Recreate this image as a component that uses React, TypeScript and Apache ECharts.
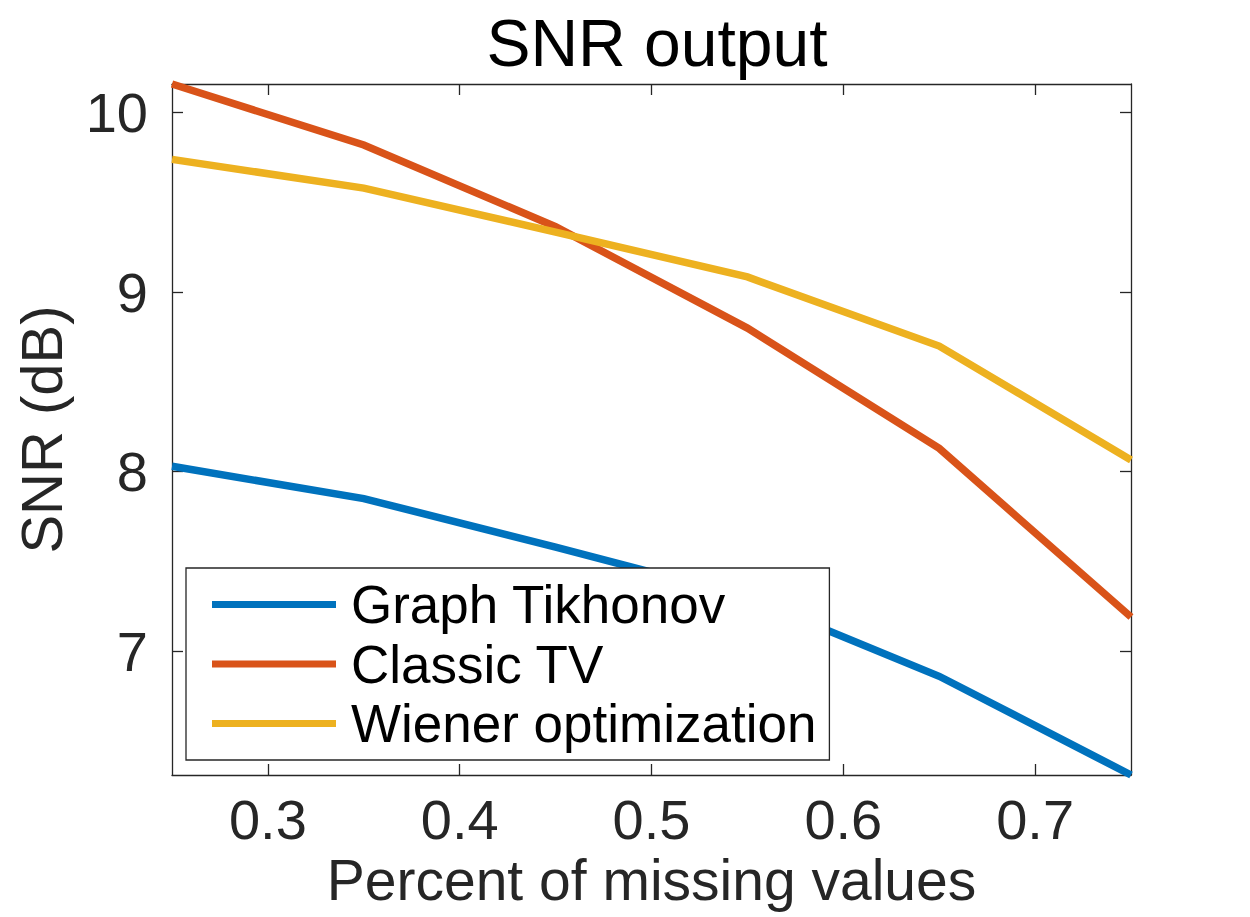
import React, { useEffect, useRef } from "react";
import * as echarts from "echarts";

const missingFraction = [0.25, 0.35, 0.45, 0.55, 0.65, 0.75];
const graphTikhonov = [8.03, 7.85, 7.58, 7.3, 6.86, 6.31];
const classicTV = [10.16, 9.82, 9.365, 8.8, 8.13, 7.19];
const wienerOptimization = [9.74, 9.58, 9.335, 9.085, 8.7, 8.065];
const xTicks = [0.3, 0.4, 0.5, 0.6, 0.7];
const yTicks = [7, 8, 9, 10];
const seriesNames = ["Graph Tikhonov", "Classic TV", "Wiener optimization"];
const seriesColors = ["#0072BD", "#D95319", "#EDB120"];

const FONT = "'Liberation Sans', Helvetica, Arial, sans-serif";
const AX = "#262626";

export default function App() {
  const ref = useRef<HTMLDivElement>(null);
  useEffect(() => {
    if (!ref.current) return;
    const chart = echarts.init(ref.current, undefined, { renderer: "svg" });
    const pair = (ys: number[]) => missingFraction.map((x, i) => [x, ys[i]]);
    const allSeries = [graphTikhonov, classicTV, wienerOptimization];
    const axisCommon = {
      axisLine: { show: true, onZero: false, lineStyle: { color: AX, width: 1.3 } },
      splitLine: { show: false },
    };
    chart.setOption({
      animation: false,
      backgroundColor: "#ffffff",
      textStyle: { fontFamily: FONT },
      title: {
        text: "SNR output",
        left: 652,
        textAlign: "center",
        top: 5,
        textStyle: { fontFamily: FONT, fontSize: 66, fontWeight: "normal", color: "#000" },
      },
      grid: { left: 172, right: 119, top: 84, bottom: 142, containLabel: false },
      xAxis: [
        {
          ...axisCommon,
          type: "value",
          min: 0.25,
          max: 0.75,
          position: "bottom",
          axisTick: { show: true, inside: true, length: 11, customValues: xTicks, lineStyle: { color: AX, width: 1.3 } },
          axisLabel: {
            show: true,
            customValues: xTicks,
            margin: 16,
            fontSize: 56,
            color: AX,
            fontFamily: FONT,
            formatter: (v: number) => v.toFixed(1),
          },
          name: "Percent of missing values",
          nameLocation: "middle",
          nameGap: 76,
          nameTextStyle: { fontSize: 57, color: AX, fontFamily: FONT },
        },
        {
          ...axisCommon,
          type: "value",
          min: 0.25,
          max: 0.75,
          position: "top",
          axisTick: { show: true, inside: true, length: 11, customValues: xTicks, lineStyle: { color: AX, width: 1.3 } },
          axisLabel: { show: false },
        },
      ],
      yAxis: [
        {
          ...axisCommon,
          type: "value",
          min: 6.31,
          max: 10.16,
          position: "left",
          axisTick: { show: true, inside: true, length: 11, customValues: yTicks, lineStyle: { color: AX, width: 1.3 } },
          axisLabel: {
            show: true,
            customValues: yTicks,
            margin: 24,
            fontSize: 56,
            color: AX,
            fontFamily: FONT,
          },
          name: "SNR (dB)",
          nameLocation: "middle",
          nameGap: 102,
          nameTextStyle: { fontSize: 58, color: AX, fontFamily: FONT },
        },
        {
          ...axisCommon,
          type: "value",
          min: 6.31,
          max: 10.16,
          position: "right",
          axisTick: { show: true, inside: true, length: 11, customValues: yTicks, lineStyle: { color: AX, width: 1.3 } },
          axisLabel: { show: false },
        },
      ],
      legend: {
        show: true,
        orient: "vertical",
        left: 186,
        top: 568,
        data: seriesNames.map((n) => ({ name: n, icon: "rect" })),
        itemWidth: 124,
        itemHeight: 7,
        itemGap: 6.5,
        padding: [10, 13, 10, 26],
        backgroundColor: "#ffffff",
        borderColor: AX,
        borderWidth: 1.3,
        borderRadius: 0,
        textStyle: {
          fontFamily: FONT,
          fontSize: 53,
          lineHeight: 50,
          color: "#000",
          padding: [0, 0, 0, 10],
        },
        z: 10,
      },
      series: allSeries.map((ys, i) => ({
        name: seriesNames[i],
        type: "line",
        xAxisIndex: 0,
        yAxisIndex: 0,
        data: pair(ys),
        showSymbol: false,
        symbol: "none",
        clip: false,
        color: seriesColors[i],
        lineStyle: { color: seriesColors[i], width: 7.5, join: "miter" },
        z: 2,
      })),
    });
    return () => chart.dispose();
  }, []);
  return (
    <div
      ref={ref}
      style={{ position: "fixed", left: 0, top: 0, width: 1250, height: 917, background: "#fff" }}
    />
  );
}
